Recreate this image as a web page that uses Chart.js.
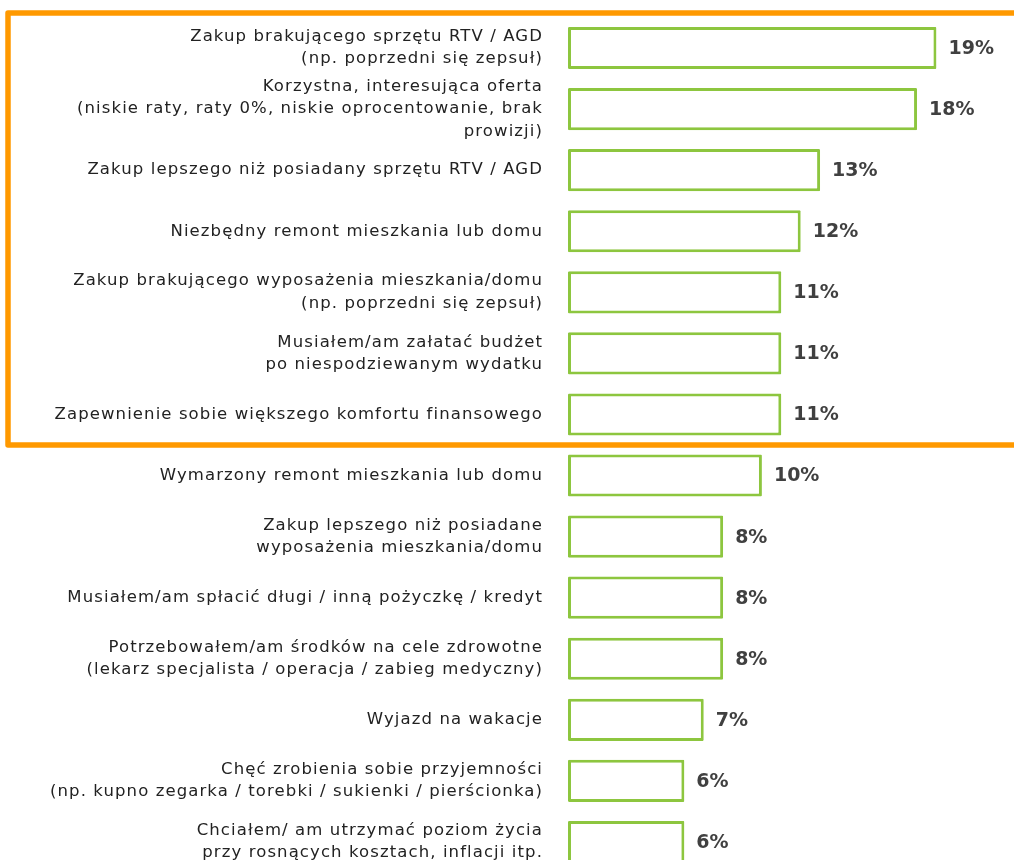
<!DOCTYPE html>
<html>
<head>
<meta charset="utf-8">
<script src="https://cdn.jsdelivr.net/npm/chart.js@4/dist/chart.umd.min.js"></script>
<style>
  html, body { margin: 0; padding: 0; background: #ffffff; overflow: hidden; }
  #wrap { position: relative; width: 1014px; height: 880px; }
</style>
</head>
<body>
<div id="wrap"><canvas id="c"></canvas></div>
<script>
const categories = [
  ["Zakup brakującego sprzętu RTV / AGD", "(np. poprzedni się zepsuł)"],
  ["Korzystna, interesująca oferta", "(niskie raty, raty 0%, niskie oprocentowanie, brak", "prowizji)"],
  "Zakup lepszego niż posiadany sprzętu RTV / AGD",
  "Niezbędny remont mieszkania lub domu",
  ["Zakup brakującego wyposażenia mieszkania/domu", "(np. poprzedni się zepsuł)"],
  ["Musiałem/am załatać budżet", "po niespodziewanym wydatku"],
  "Zapewnienie sobie większego komfortu finansowego",
  "Wymarzony remont mieszkania lub domu",
  ["Zakup lepszego niż posiadane", "wyposażenia mieszkania/domu"],
  "Musiałem/am spłacić długi / inną pożyczkę / kredyt",
  ["Potrzebowałem/am środków na cele zdrowotne", "(lekarz specjalista / operacja / zabieg medyczny)"],
  "Wyjazd na wakacje",
  ["Chęć zrobienia sobie przyjemności", "(np. kupno zegarka / torebki / sukienki / pierścionka)"],
  ["Chciałem/ am utrzymać poziom życia", "przy rosnących kosztach, inflacji itp."]
];
const values = [19, 18, 13, 12, 11, 11, 11, 10, 8, 8, 8, 7, 6, 6];
const highlightedCount = 7;

const spacing = {
  id: 'spacing',
  beforeDraw(chart) { chart.ctx.letterSpacing = '1.1px'; },
  afterDraw(chart) { chart.ctx.letterSpacing = '0px'; }
};

const valueLabels = {
  id: 'valueLabels',
  afterDatasetsDraw(chart) {
    const ctx = chart.ctx;
    const meta = chart.getDatasetMeta(0);
    ctx.save();
    ctx.letterSpacing = '0px';
    ctx.font = 'bold 19px "DejaVu Sans", sans-serif';
    ctx.fillStyle = '#404040';
    ctx.textAlign = 'left';
    ctx.textBaseline = 'middle';
    meta.data.forEach((bar, i) => {
      ctx.fillText(values[i] + '%', bar.x + 12, bar.y + 1);
    });
    ctx.restore();
  }
};

const highlightBox = {
  id: 'highlightBox',
  afterDraw(chart) {
    const y = chart.scales.y;
    const band = y.getPixelForValue(1) - y.getPixelForValue(0);
    const top = y.getPixelForValue(0) - band / 2 - 4.5;
    const bottom = y.getPixelForValue(highlightedCount - 1) + band / 2;
    const ctx = chart.ctx;
    ctx.save();
    ctx.strokeStyle = '#FF9900';
    ctx.lineWidth = 5.5;
    ctx.lineJoin = 'round';
    ctx.beginPath();
    ctx.moveTo(chart.width + 10, top);
    ctx.lineTo(8, top);
    ctx.lineTo(8, bottom);
    ctx.lineTo(chart.width + 10, bottom);
    ctx.stroke();
    ctx.restore();
  }
};

new Chart(document.getElementById('c'), {
  type: 'bar',
  data: {
    labels: categories,
    datasets: [{
      data: values,
      backgroundColor: '#ffffff',
      borderColor: '#8DC63F',
      borderWidth: 3,
      borderSkipped: false,
      borderRadius: 1,
      barPercentage: 0.69,
      categoryPercentage: 1.0
    }]
  },
  options: {
    indexAxis: 'y',
    responsive: true,
    maintainAspectRatio: false,
    animation: false,
    layout: { padding: { top: 17.5, bottom: 7.5, left: 0, right: 0 } },
    plugins: {
      legend: { display: false },
      tooltip: { enabled: false }
    },
    scales: {
      x: {
        display: false,
        min: 0,
        max: 23
      },
      y: {
        afterFit(scale) {
          scale.width = 568;
          scale.paddingTop = 0;
          scale.paddingBottom = 0;
        },
        grid: { display: false, drawTicks: false },
        border: { display: false },
        ticks: {
          padding: 25,
          color: '#222222',
          font: { family: '"DejaVu Sans", sans-serif', size: 16.5, lineHeight: 1.35 },
          autoSkip: false
        }
      }
    }
  },
  plugins: [spacing, valueLabels, highlightBox]
});
</script>
</body>
</html>
